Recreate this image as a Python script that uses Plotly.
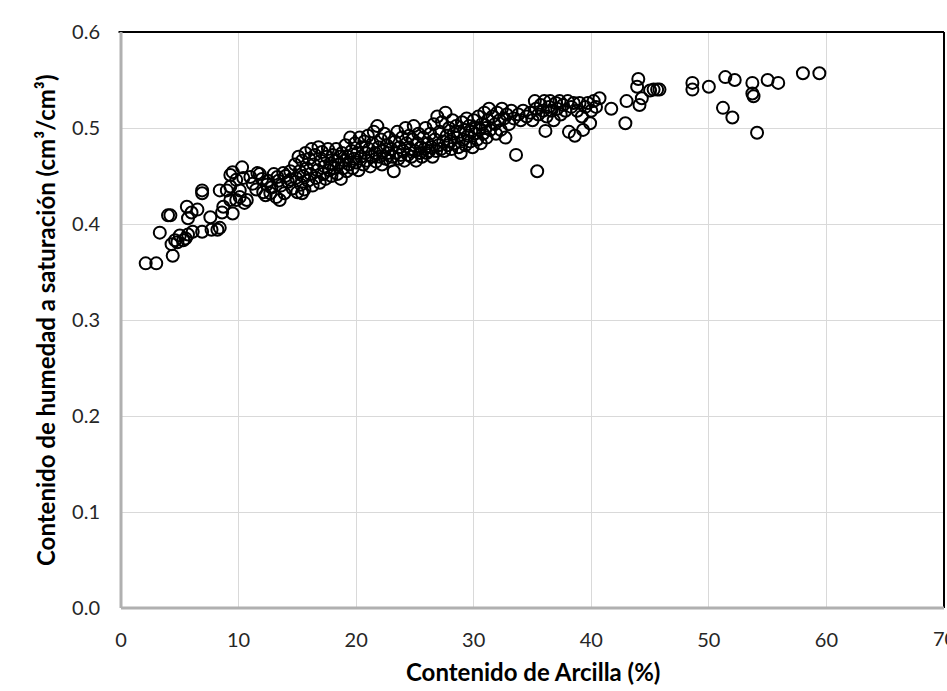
import plotly.graph_objects as go

# Contenido de arcilla (%) and humedad a saturación (cm3/cm3)
clay_sparse = [2.1, 3.0, 3.3, 4.0, 4.2, 4.4, 4.3, 4.6, 4.8, 5.0, 5.3, 5.5, 5.7, 5.6, 6.0, 6.5,
               5.7, 6.1, 6.9, 6.9, 6.9, 7.6, 7.7, 8.2, 8.4, 8.6, 8.7, 8.4, 9.0, 9.5, 9.3,
               9.8, 10.1, 10.5, 10.7, 9.3, 9.5, 9.8, 10.3, 10.4, 9.3, 10.1, 11.6, 12.1,
               12.4, 13.5, 12.7, 13.3, 13.8, 14.4, 15.4]
theta_sparse = [0.359, 0.359, 0.391, 0.409, 0.409, 0.367, 0.379, 0.383, 0.381, 0.388, 0.383,
                0.385, 0.389, 0.418, 0.412, 0.415, 0.406, 0.392, 0.392, 0.435, 0.432, 0.407,
                0.394, 0.394, 0.396, 0.412, 0.418, 0.435, 0.435, 0.411, 0.425, 0.425, 0.428,
                0.422, 0.425, 0.451, 0.454, 0.446, 0.459, 0.448, 0.439, 0.435, 0.453, 0.433,
                0.441, 0.425, 0.432, 0.449, 0.453, 0.446, 0.432]

clay_band = [11.0, 11.2, 11.5, 11.8, 12.0, 12.3, 12.5, 12.8, 13.0, 13.2, 13.4, 13.6, 13.9, 14.0,
             14.2, 14.4, 14.6,
             14.8, 14.9, 15.0, 15.1, 15.2, 15.3, 15.4, 15.5, 15.6, 15.7, 15.8, 15.9, 16.0,
             16.1, 16.2, 16.3, 16.4, 16.5, 16.6, 16.7, 16.8, 16.9, 17.0, 17.1, 17.2, 17.3,
             17.4, 17.5, 17.6, 17.7, 17.8, 17.9,
             18.0, 18.1, 18.2, 18.3, 18.4, 18.5, 18.6, 18.7, 18.8, 18.9, 19.0, 19.1, 19.2,
             19.3, 19.4, 19.5, 19.6, 19.7, 19.8, 19.9, 20.0, 20.1, 20.2,
             20.3, 20.4, 20.5, 20.6, 20.7, 20.8, 20.9, 21.0, 21.1, 21.2, 21.3, 21.4, 21.5,
             21.6, 21.7, 21.8, 21.9, 22.0, 22.1, 22.2, 22.3, 22.4, 22.5, 22.6, 22.7,
             22.8, 22.9, 23.0, 23.1, 23.2, 23.3, 23.4, 23.5, 23.6, 23.7, 23.8, 23.9, 24.0,
             24.1, 24.2, 24.3, 24.4, 24.5, 24.6, 24.7, 24.8, 24.9, 25.0, 25.1, 25.2,
             25.3, 25.4, 25.5, 25.6, 25.7, 25.8, 25.9, 26.0, 26.1, 26.2, 26.3, 26.4, 26.5,
             26.6, 26.7, 26.8, 26.9, 27.0, 27.1, 27.2, 27.3, 27.4, 27.5, 27.6, 27.7, 27.8,
             27.9,
             28.0, 28.1, 28.2, 28.3, 28.4, 28.5, 28.6, 28.7, 28.8, 28.9, 29.0, 29.1, 29.2,
             29.3, 29.4, 29.5, 29.6, 29.7, 29.8, 29.9, 30.0, 30.1, 30.2, 30.3, 30.4, 30.5,
             30.6, 30.7, 30.8, 30.9, 31.0, 31.1, 31.2, 31.3, 31.4, 31.6, 31.8, 31.9, 32.0,
             32.2, 32.3, 32.4, 32.6, 32.7, 32.8, 33.0, 33.2, 33.4, 33.6, 33.8, 34.0, 34.2,
             34.5,
             34.8, 35.0, 35.2, 35.3, 35.4, 35.5, 35.7, 35.9, 36.0, 36.1, 36.2, 36.4, 36.5,
             36.6, 36.8, 37.0, 37.1, 37.3, 37.4, 37.6, 37.8, 38.0, 38.1, 38.3, 38.5, 38.6,
             38.8, 39.0, 39.2, 39.3, 39.5, 39.7, 39.9, 40.0, 40.2, 40.4, 40.7]
theta_band = [0.449, 0.442, 0.436, 0.452, 0.447, 0.430, 0.445, 0.438, 0.452, 0.428, 0.445,
              0.440, 0.432, 0.450, 0.444, 0.455, 0.437,
              0.462, 0.448, 0.433, 0.470, 0.455, 0.441, 0.466, 0.450, 0.436, 0.474, 0.458,
              0.445, 0.468,
              0.452, 0.478, 0.440, 0.462, 0.472, 0.448, 0.456, 0.480, 0.443, 0.466, 0.475,
              0.452, 0.460, 0.447, 0.470, 0.478, 0.456, 0.463, 0.450,
              0.472, 0.458, 0.466, 0.478, 0.452, 0.462, 0.470, 0.447, 0.474, 0.458, 0.466,
              0.482, 0.455, 0.470, 0.462, 0.490, 0.476, 0.458, 0.468, 0.484, 0.464, 0.474,
              0.456,
              0.490, 0.470, 0.480, 0.462, 0.486, 0.474, 0.466, 0.492, 0.478, 0.460, 0.470,
              0.484, 0.496, 0.474, 0.465, 0.502, 0.480, 0.470, 0.488, 0.462, 0.476, 0.494,
              0.468, 0.482, 0.474,
              0.490, 0.466, 0.478, 0.470, 0.455, 0.486, 0.474, 0.496, 0.468, 0.480, 0.472,
              0.490, 0.476, 0.466, 0.500, 0.484, 0.472, 0.492, 0.478, 0.470, 0.488, 0.502,
              0.476, 0.466, 0.484,
              0.494, 0.474, 0.480, 0.470, 0.490, 0.478, 0.500, 0.474, 0.484, 0.476, 0.494,
              0.480, 0.470, 0.504, 0.488, 0.476, 0.512, 0.482, 0.496, 0.478, 0.506, 0.486,
              0.476, 0.516, 0.492, 0.482, 0.500,
              0.486, 0.478, 0.508, 0.494, 0.484, 0.502, 0.490, 0.480, 0.496, 0.474, 0.506,
              0.488, 0.498, 0.482, 0.510, 0.492, 0.502, 0.486, 0.496, 0.480, 0.508, 0.494,
              0.500, 0.488, 0.512, 0.498,
              0.484, 0.504, 0.494, 0.516, 0.500, 0.490, 0.508, 0.520, 0.498, 0.512, 0.504,
              0.494, 0.516, 0.508, 0.498, 0.520, 0.510, 0.490, 0.514, 0.504, 0.518, 0.510,
              0.472, 0.514, 0.508, 0.518, 0.512,
              0.516, 0.508, 0.528, 0.520, 0.455, 0.514, 0.524, 0.518, 0.528, 0.497, 0.512,
              0.522, 0.528, 0.518, 0.508, 0.526, 0.520, 0.528, 0.514, 0.524, 0.518, 0.528,
              0.496, 0.522, 0.526, 0.492, 0.518, 0.526, 0.512, 0.498, 0.522, 0.526, 0.505,
              0.518, 0.528, 0.522, 0.531]

clay_high = [41.7, 42.9, 43.0, 44.0, 43.9, 44.1, 44.3, 45.0, 45.3, 45.6, 45.8, 48.6, 48.6,
             50.0, 51.4, 52.2, 51.2, 52.0, 53.7, 53.7, 53.8, 54.1, 55.0, 55.9, 58.0, 59.4]
theta_high = [0.520, 0.505, 0.528, 0.551, 0.543, 0.524, 0.531, 0.539, 0.540, 0.540, 0.540,
              0.547, 0.540, 0.543, 0.553, 0.550, 0.521, 0.511, 0.547, 0.536, 0.533, 0.495,
              0.550, 0.547, 0.557, 0.557]

x_ticks = [0, 10, 20, 30, 40, 50, 60, 70]
y_ticks = [0.0, 0.1, 0.2, 0.3, 0.4, 0.5, 0.6]

clay = clay_sparse + clay_band + clay_high
theta = theta_sparse + theta_band + theta_high

FONT = "Lato"
TICK_SIZE = 20
TITLE_SIZE = 24
TICK_COLOR = "#262626"

fig = go.Figure()
fig.add_trace(go.Scatter(
    x=clay, y=theta, mode="markers",
    marker=dict(symbol="circle-open", size=12, color="black", line=dict(width=2, color="black")),
    showlegend=False,
))

# last x tick label (partly outside the page, as in the reference)
edge_labels = [dict(text=str(x_ticks[-1]), xref="x", yref="paper", x=x_ticks[-1], y=-0.052,
                    xanchor="center", yanchor="middle", showarrow=False,
                    font=dict(family=FONT, size=TICK_SIZE, color=TICK_COLOR))]

fig.update_layout(
    width=947, height=691,
    margin=dict(l=121, r=3, t=32, b=83),
    paper_bgcolor="white", plot_bgcolor="white",
    font=dict(family=FONT, size=TICK_SIZE, color=TICK_COLOR),
    xaxis=dict(range=[0, 70], tickvals=x_ticks[:-1], ticktext=[str(v) for v in x_ticks[:-1]],
               showgrid=True, gridcolor="#d9d9d9", gridwidth=1.3, zeroline=False,
               showline=False, ticks="", ticklabelstandoff=18,
               tickfont=dict(family=FONT, size=TICK_SIZE, color=TICK_COLOR)),
    yaxis=dict(range=[0, 0.6], tickvals=y_ticks, ticktext=[f"{v:.1f}" for v in y_ticks],
               showgrid=True, gridcolor="#d9d9d9", gridwidth=1.3, zeroline=False,
               showline=False, ticks="", ticklabelstandoff=20,
               tickfont=dict(family=FONT, size=TICK_SIZE, color=TICK_COLOR)),
    shapes=[
        dict(type="line", xref="paper", yref="paper", x0=-0.003, x1=1, y0=1, y1=1,
             line=dict(color="black", width=2), layer="above"),
        dict(type="line", xref="paper", yref="paper", x0=1, x1=1, y0=0, y1=1,
             line=dict(color="black", width=2), layer="above"),
        dict(type="line", xref="paper", yref="paper", x0=0, x1=0, y0=0, y1=1,
             line=dict(color="#b0b0b0", width=3), layer="above"),
        dict(type="line", xref="paper", yref="paper", x0=0, x1=1, y0=0, y1=0,
             line=dict(color="#b0b0b0", width=3), layer="above"),
    ],
    annotations=edge_labels + [
        dict(text="<b>Contenido de Arcilla (%)</b>", xref="paper", yref="paper",
             x=0.5, y=-0.111, yanchor="middle", xanchor="center", showarrow=False,
             font=dict(family=FONT, size=TITLE_SIZE, color="#000000")),
        dict(text="<b>Contenido de humedad a saturación (cm³/cm³)</b>", xref="paper",
             yref="paper", x=-0.0923, y=0.5, xanchor="center", yanchor="middle",
             textangle=-90, showarrow=False,
             font=dict(family=FONT, size=TITLE_SIZE, color="#000000")),
    ],
)

fig.write_html("out.html")
